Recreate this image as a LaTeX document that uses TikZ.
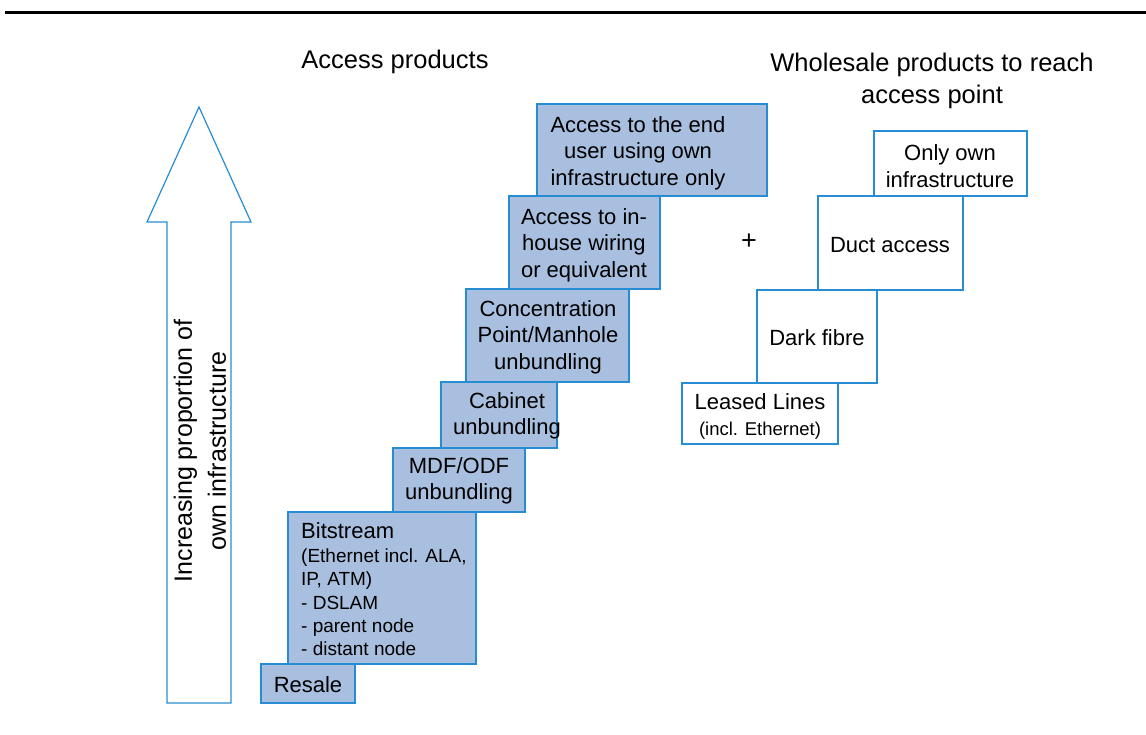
\documentclass[tikz,border=0pt]{standalone}
\usepackage{fontspec}
\setmainfont{Liberation Sans}
\definecolor{fillb}{RGB}{169,191,223}
\definecolor{edgeb}{RGB}{40,140,210}
\tikzset{
  x=1pt,y=-1pt,
  prod/.style={draw=edgeb,line width=1.2pt,fill=fillb},
  whole/.style={draw=edgeb,line width=1.2pt,fill=white},
  lbl/.style={align=center,font=\fontsize{22}{26.5}\selectfont,inner sep=0pt},
  ttl/.style={align=center,font=\fontsize{25.5}{32}\selectfont,inner sep=0pt},
}
\begin{document}
\begin{tikzpicture}
\useasboundingbox (0,0) rectangle (1146,734);
\draw[line width=3pt] (5,12.5) -- (1146,12.5);
% titles
\node[ttl] (t1) at (395,62) {Access products};
\node[ttl] (t2) at (932,81) {Wholesale products to reach\\access point};
% arrow
\draw[edgeb,line width=1.2pt,fill=white] (167,703) -- (167,222) -- (147,222) -- (199,107) -- (251,222) -- (231,222) -- (231,703) -- cycle;
\node[ttl,font=\fontsize{25}{34}\selectfont,rotate=90] (arr) at (200,451) {Increasing proportion of\\own infrastructure};
% access products
\path[prod] (261,664) rectangle (355,703);
\node[lbl] (resale) at (308,685) {Resale};
\path[prod] (288,512) rectangle (476,664);
\node[inner sep=0pt,anchor=north west,align=left,font=\fontsize{19}{23.3}\selectfont] (bit) at (301,522)
  {{\fontsize{22}{23.3}\selectfont Bitstream}\\[1pt](Ethernet incl. ALA,\\IP, ATM)\\- DSLAM\\- parent node\\- distant node};
\path[prod] (393,448) rectangle (525,512);
\node[lbl] (mdf) at (459,481) {MDF/ODF\\unbundling};
\path[prod] (441,382) rectangle (557,448);
\node[lbl] (cab) at (507,416) {Cabinet\\unbundling};
\path[prod] (466,289) rectangle (629,382);
\node[lbl] (conc) at (548,337) {Concentration\\Point/Manhole\\unbundling};
\path[prod] (509,196) rectangle (660,289);
\node[lbl] (inh) at (584,245) {Access to in-\\house wiring\\or equivalent};
\path[prod] (537,104) rectangle (767,196);
\node[lbl] (end) at (638,153) {Access to the end\\user using own\\infrastructure only};
% plus
\node[lbl,font=\fontsize{27}{30}\selectfont] (plus) at (749,242) {+};
% wholesale
\path[whole] (682,383) rectangle (838,444);
\node[inner sep=0pt,align=center,font=\fontsize{22}{26}\selectfont] (ll) at (760,416) {Leased Lines\\{\fontsize{18.5}{20}\selectfont (incl. Ethernet)}};
\path[whole] (757,290) rectangle (877,383);
\node[lbl] (df) at (817,338) {Dark fibre};
\path[whole] (818,196) rectangle (963,290);
\node[lbl] (duct) at (890,245) {Duct access};
\path[whole] (874,131) rectangle (1027,196);
\node[lbl] (own) at (950,166) {Only own\\infrastructure};
\end{tikzpicture}
\end{document}
